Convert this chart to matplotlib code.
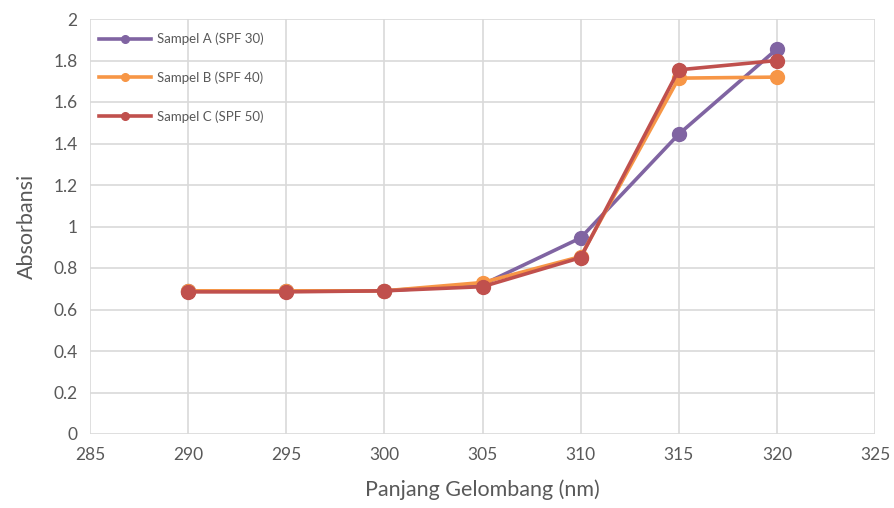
import matplotlib.pyplot as plt

wavelength = [290, 295, 300, 305, 310, 315, 320]
sampel_a = [0.69, 0.69, 0.69, 0.72, 0.945, 1.445, 1.855]
sampel_b = [0.69, 0.69, 0.69, 0.73, 0.855, 1.715, 1.72]
sampel_c = [0.685, 0.685, 0.69, 0.71, 0.85, 1.755, 1.80]

labels = ['Sampel A (SPF 30)', 'Sampel B (SPF 40)', 'Sampel C (SPF 50)']
colors = ['#8064A2', '#F79646', '#C0504D']

plt.rcParams['font.family'] = ['Lato', 'DejaVu Sans']

fig = plt.figure(figsize=(8.95, 5.08), dpi=100)
ax = fig.add_axes([90 / 895, 1 - 434 / 508, 785 / 895, 415 / 508])

for y, lab, c in zip([sampel_a, sampel_b, sampel_c], labels, colors):
    ax.plot(wavelength, y, color=c, lw=2.6, marker='o', markersize=10, label=lab)

ax.set_xlim(285, 325)
ax.set_ylim(0, 2)
ax.set_xticks(range(285, 326, 5))
ax.set_yticks([0, 0.2, 0.4, 0.6, 0.8, 1, 1.2, 1.4, 1.6, 1.8, 2])
ax.set_yticklabels(['0', '0.2', '0.4', '0.6', '0.8', '1', '1.2', '1.4', '1.6', '1.8', '2'])
ax.grid(True, color='#D9D9D9', lw=1.2)
ax.set_axisbelow(True)
for s in ax.spines.values():
    s.set_visible(False)
ax.tick_params(length=0, labelsize=12.5, colors='#595959', pad=9)
ax.set_xlabel('Panjang Gelombang (nm)', fontsize=15.5, color='#595959', labelpad=12)
ax.set_ylabel('Absorbansi', fontsize=15.5, color='#595959', labelpad=12)

leg = ax.legend(loc='upper left', frameon=False, fontsize=9.5, handlelength=3.9,
                markerscale=0.55, labelspacing=2.0, borderaxespad=0.0,
                handletextpad=0.5, bbox_to_anchor=(0.005, 0.98))
for t in leg.get_texts():
    t.set_color('#595959')

fig.savefig('out.png', dpi=100)
